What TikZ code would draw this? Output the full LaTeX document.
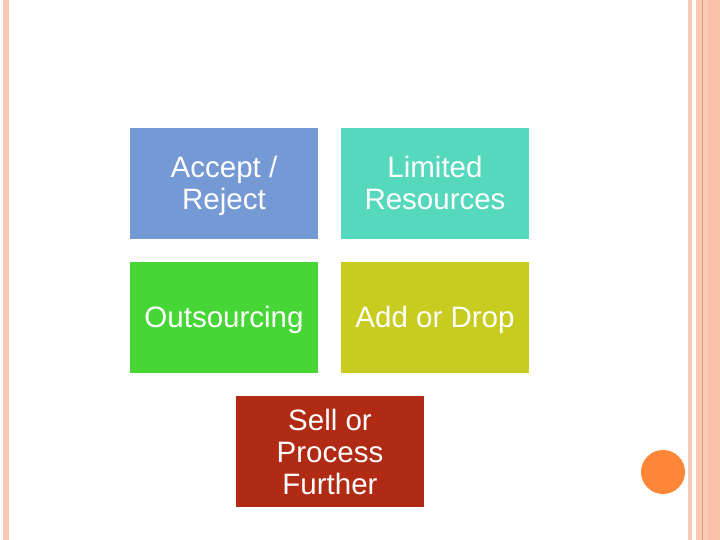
\documentclass[tikz,border=0pt]{standalone}
\usepackage{fontspec}
\setmainfont{Liberation Sans}
\definecolor{bar}{HTML}{F9C8B4}
\definecolor{barlight}{HTML}{FCCBB6}
\definecolor{bardark}{HTML}{E49A6E}
\definecolor{barmid}{HTML}{F9C1AA}
\definecolor{cblue}{HTML}{7599D5}
\definecolor{cteal}{HTML}{55D8BB}
\definecolor{cgreen}{HTML}{46D636}
\definecolor{colive}{HTML}{C8CB20}
\definecolor{cred}{HTML}{B02A14}
\definecolor{corange}{HTML}{FD8637}
\begin{document}
\begin{tikzpicture}[x=1pt,y=-1pt,
  tile/.style={minimum width=188pt,minimum height=111pt,inner sep=0pt,outer sep=0pt,anchor=north west},
  tiletext/.style={text=white,align=center,inner sep=0pt,font=\fontsize{29.5}{32}\selectfont,
    execute at begin node=\strut, execute at end node=\strut}]
\useasboundingbox (0,0) rectangle (720,540);
\fill[white] (0,0) rectangle (720,540);
% left bar
\fill[bar] (3,0) rectangle (9,540);
% right bars
\fill[bar] (688,0) rectangle (692,540);
\fill[bar] (696,0) rectangle (702,540);
\fill[bardark] (702,0) rectangle (703,540);
\fill[barlight] (703,0) rectangle (708,540);
\fill[barmid] (708,0) rectangle (720,540);
% circle
\fill[corange] (663,472) circle (22);
% tiles
\node[tile,fill=cblue] (accept) at (130,128) {};
\node[tile,fill=cteal] (limited) at (341,128) {};
\node[tile,fill=cgreen] (out) at (130,262) {};
\node[tile,fill=colive] (add) at (341,262) {};
\node[tile,fill=cred] (sell) at (236,396) {};
\node[tiletext] (accepttxt) at ([yshift=-4.5pt]accept.center) {Accept /\\Reject};
\node[tiletext] (limitedtxt) at ([yshift=-4.5pt]limited.center) {Limited\\Resources};
\node[tiletext] (outtxt) at ([yshift=-4pt]out.center) {Outsourcing};
\node[tiletext] (addtxt) at ([yshift=-4pt]add.center) {Add or Drop};
\node[tiletext] (selltxt) at ([yshift=-5pt]sell.center) {Sell or\\Process\\Further};
\end{tikzpicture}
\end{document}
